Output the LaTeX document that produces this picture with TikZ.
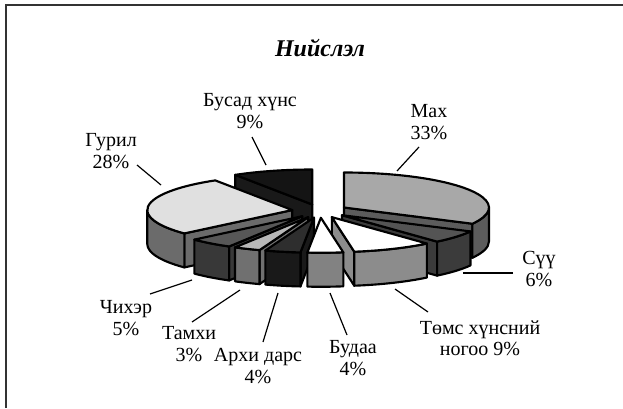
\documentclass[tikz,border=0pt]{standalone}
\usepackage{fontspec}
\setmainfont{Liberation Serif}
\usetikzlibrary{calc}

% pie geometry (pixel units)
\newcommand{\pcx}{320}  % centre x
\newcommand{\pcy}{197}  % centre y
\newcommand{\prx}{145}  % x radius
\newcommand{\pry}{35}   % y radius
\newcommand{\pdd}{28}   % explosion
\newcommand{\phh}{34}   % thickness

\tikzset{
  slice/.style={draw=black,line width=1.6pt,line join=round},
  leader/.style={draw=black,line width=0.9pt},
  lbl/.style={align=center,inner sep=0pt,font=\fontsize{15}{16}\selectfont}
}

% start angle, end angle, top colour, side colour, wall from, wall to
\newcommand{\pieslice}[6]{%
  \pgfmathsetmacro{\midang}{(#1+#2)/2}
  \coordinate (o) at ({\pcx+\pdd*cos(\midang)},{\pcy+\pdd*\pry/\prx*sin(\midang)});
  \coordinate (ob) at ($(o)+(0,-\phh)$);
  \pgfmathtruncatemacro{\showa}{cos(#1)>0.01}
  \pgfmathtruncatemacro{\showb}{cos(#2)<-0.01}
  % cut faces
  \ifnum\showa=1
    \filldraw[slice,fill=#4] (o) -- ++({\prx*cos(#1)},{\pry*sin(#1)}) -- ++(0,-\phh) -- (ob) -- cycle;
  \fi
  \ifnum\showb=1
    \filldraw[slice,fill=#4] (o) -- ++({\prx*cos(#2)},{\pry*sin(#2)}) -- ++(0,-\phh) -- (ob) -- cycle;
  \fi
  % outer wall
  \ifdim #5pt=#6pt\else
    \filldraw[slice,fill=#4] ($(o)+({\prx*cos(#5)},{\pry*sin(#5)})$)
      arc[start angle=#5,end angle=#6,x radius=\prx,y radius=\pry]
      -- ++(0,-\phh)
      arc[start angle=#6,end angle=#5,x radius=\prx,y radius=\pry] -- cycle;
  \fi
  % top
  \filldraw[slice,fill=#3] (o) -- ++({\prx*cos(#1)},{\pry*sin(#1)})
    arc[start angle=#1,end angle=#2,x radius=\prx,y radius=\pry] -- cycle;
}

\begin{document}
\begin{tikzpicture}[x=0.75pt,y=0.75pt]

    \useasboundingbox (0,0) rectangle (623,408);

    % frame
    \draw[black!80,line width=1pt] (6,0) -- (6,403) -- (623,403);

    % title
    \node[font=\fontsize{18}{20}\selectfont\bfseries\itshape] (title) at (320,360) {Нийслэл};

    % slices, back to front
    \pieslice{90}{122.08}{black!92}{black!90}{0}{0}                   % Бусад хүнс
    \pieslice{-27.62}{90}{black!34}{black!64}{-27.62}{0}              % Мах
    \pieslice{122.08}{221.88}{black!12}{black!58}{180}{221.88}        % Гурил
    \pieslice{-49.01}{-27.62}{black!67}{black!77}{-49.01}{-27.62}     % Сүү
    \pieslice{-138.12}{-120.30}{black!66}{black!78}{-138.12}{-120.30} % Чихэр
    \pieslice{-81.09}{-49.01}{white}{black!45}{-81.09}{-49.01}        % Төмс
    \pieslice{-120.30}{-109.60}{black!28}{black!56}{-120.30}{-109.60} % Тамхи
    \pieslice{-109.60}{-95.35}{black!82}{black!90}{-109.60}{-95.35}   % Архи
    \pieslice{-95.35}{-81.09}{white}{black!49}{-95.35}{-81.09}        % Будаа

    % labels
    \node[lbl] (busad) at (250,297) {Бусад хүнс\\9\%};
    \node[lbl] (mah) at (429,286) {Мах\\33\%};
    \node[lbl] (guril) at (111,257) {Гурил\\28\%};
    \node[lbl] (chiher) at (126,90) {Чихэр\\5\%};
    \node[lbl] (tamhi) at (189,64) {Тамхи\\3\%};
    \node[lbl] (arhi) at (258,42) {Архи дарс\\4\%};
    \node[lbl] (budaa) at (353,50) {Будаа\\4\%};
    \node[lbl] (toms) at (480,70) {Төмс хүнсний\\ногоо 9\%};
    \node[lbl] (suu) at (539,139) {Сүү\\6\%};

    % leader lines
    \coordinate (busad-a) at (252,271);  \coordinate (busad-b) at (266,243);
    \coordinate (mah-a) at (419,261);    \coordinate (mah-b) at (397,237);
    \coordinate (guril-a) at (137,243);  \coordinate (guril-b) at (161,223);
    \coordinate (chiher-a) at (150,114); \coordinate (chiher-b) at (192,128);
    \coordinate (tamhi-a) at (192,86);   \coordinate (tamhi-b) at (240,118);
    \coordinate (arhi-a) at (263,66);    \coordinate (arhi-b) at (278,115);
    \coordinate (budaa-a) at (347,73);   \coordinate (budaa-b) at (330,115);
    \coordinate (toms-a) at (428,96);    \coordinate (toms-b) at (395,119);
    \coordinate (suu-a) at (513,135);    \coordinate (suu-b) at (463,135);
    \foreach \n in {busad,mah,guril,chiher,tamhi,arhi,budaa,toms,suu}
        \draw[leader] (\n-a) -- (\n-b);

\end{tikzpicture}
\end{document}
